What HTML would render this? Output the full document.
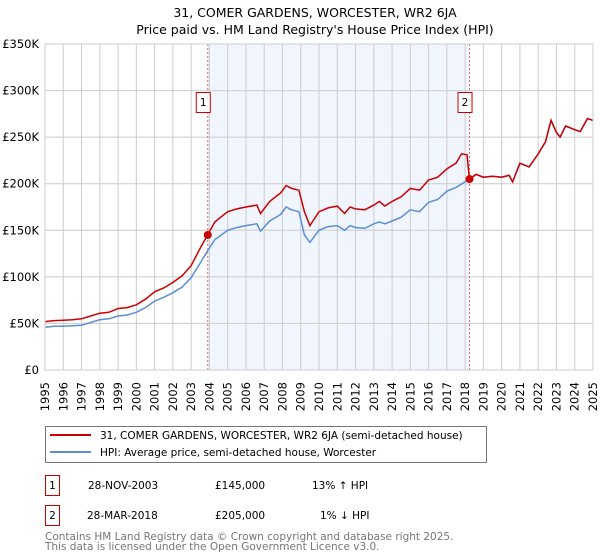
<!DOCTYPE html>
<html><head><meta charset="utf-8"><style>
body{margin:0;background:#fff;font-family:"Liberation Sans","DejaVu Sans",sans-serif;}
svg{display:block}
text{font-family:"DejaVu Sans","Liberation Sans",sans-serif;}
</style></head><body>
<svg id="chart" width="600" height="560" viewBox="0 0 600 560">
<text x="315" y="17" font-size="12.5" text-anchor="middle" fill="#000">31, COMER GARDENS, WORCESTER, WR2 6JA</text>
<text x="315" y="34" font-size="12.5" text-anchor="middle" fill="#000">Price paid vs. HM Land Registry's House Price Index (HPI)</text>
<g id="plot"></g>
<g>
<rect x="45.5" y="426.5" width="441" height="36" fill="#fff" stroke="#777"/>
<line x1="50" y1="435" x2="91" y2="435" stroke="#cc0000" stroke-width="2"/>
<text x="100" y="439" font-size="10.5">31, COMER GARDENS, WORCESTER, WR2 6JA (semi-detached house)</text>
<line x1="50" y1="452" x2="91" y2="452" stroke="#5b8ed6" stroke-width="2"/>
<text x="100" y="456" font-size="10.5">HPI: Average price, semi-detached house, Worcester</text>
</g>
<g>
<rect x="45.5" y="475.5" width="14" height="20" fill="#fff" stroke="#cc0000"/>
<text x="52.5" y="489" font-size="10.5" text-anchor="middle">1</text>
<text x="88" y="489" font-size="10.5">28-NOV-2003</text>
<text x="215" y="489" font-size="10.5">£145,000</text>
<text x="312" y="489" font-size="10.5">13% ↑ HPI</text>
<rect x="45.5" y="505.5" width="14" height="20" fill="#fff" stroke="#cc0000"/>
<text x="52.5" y="519" font-size="10.5" text-anchor="middle">2</text>
<text x="87" y="519" font-size="10.5">28-MAR-2018</text>
<text x="215" y="519" font-size="10.5">£205,000</text>
<text x="320" y="519" font-size="10.5">1% ↓ HPI</text>
</g>
<text x="45" y="540" font-size="10.5" fill="#777">Contains HM Land Registry data © Crown copyright and database right 2025.</text>
<text x="45" y="550" font-size="10.5" fill="#777">This data is licensed under the Open Government Licence v3.0.</text>
</svg>
<script>
const yTicks=[0,50000,100000,150000,200000,250000,300000,350000];
const yTickLabels=["£0","£50K","£100K","£150K","£200K","£250K","£300K","£350K"];
const years=[1995,1996,1997,1998,1999,2000,2001,2002,2003,2004,2005,2006,2007,2008,2009,2010,2011,2012,2013,2014,2015,2016,2017,2018,2019,2020,2021,2022,2023,2024,2025];
const hpiDates=[1995,1995.5,1996,1996.5,1997,1997.5,1998,1998.5,1999,1999.5,2000,2000.5,2001,2001.5,2002,2002.5,2003,2003.5,2003.9,2004.3,2005,2005.5,2006,2006.6,2006.8,2007.3,2007.9,2008.2,2008.5,2008.9,2009.2,2009.5,2010,2010.5,2011,2011.4,2011.7,2012,2012.5,2013,2013.3,2013.6,2014,2014.5,2015,2015.5,2016,2016.5,2017,2017.5,2018.24,2018.6,2019,2019.5,2020,2020.4,2020.6,2021,2021.5,2022,2022.4,2022.7,2023,2023.2,2023.5,2024,2024.3,2024.7,2025];
const hpiValues=[46000,47000,47000,47500,48000,51000,54000,55000,58000,59000,62000,67000,74000,78000,83000,89000,99000,115000,128000,140000,150000,153000,155000,157000,149000,160000,167000,175000,172000,170000,145000,137000,150000,154000,155000,150000,155000,153000,152000,157000,159000,157000,160000,164000,172000,170000,180000,183000,192000,196000,205000,210000,207000,208000,207000,209000,202000,222000,218000,232000,245000,268000,255000,250000,262000,258000,256000,270000,268000];
const priceDates=[1995,1995.5,1996,1996.5,1997,1997.5,1998,1998.5,1999,1999.5,2000,2000.5,2001,2001.5,2002,2002.5,2003,2003.5,2003.9,2004.3,2005,2005.5,2006,2006.6,2006.8,2007.3,2007.9,2008.2,2008.5,2008.9,2009.2,2009.5,2010,2010.5,2011,2011.4,2011.7,2012,2012.5,2013,2013.3,2013.6,2014,2014.5,2015,2015.5,2016,2016.5,2017,2017.5,2017.8,2018.1,2018.24,2018.6,2019,2019.5,2020,2020.4,2020.6,2021,2021.5,2022,2022.4,2022.7,2023,2023.2,2023.5,2024,2024.3,2024.7,2025];
const priceValues=[52000,53000,53500,54000,55000,58000,61000,62000,66000,67000,70000,76000,84000,88000,94000,101000,112000,131000,145000,159000,170000,173000,175000,177000,168000,181000,190000,198000,195000,193000,170000,155000,170000,174000,176000,168000,175000,173000,172000,177000,181000,176000,181000,186000,195000,193000,204000,207000,216000,222000,232000,231000,205000,210000,207000,208000,207000,209000,202000,222000,218000,232000,245000,268000,255000,250000,262000,258000,256000,270000,268000];
const sales=[{label:"1",date:2003.91,value:145000},{label:"2",date:2018.24,value:205000}];
const X0=45,X1=593,Y0=370,Y1=44;
function xs(t){return X0+(t-1995)/(2025-1995)*(X1-X0);}
function ys(v){return Y0-v/350000*(Y0-Y1);}
const NS="http://www.w3.org/2000/svg";
const g=document.getElementById('plot');
function mk(tag,attrs,parent){const e=document.createElementNS(NS,tag);for(const k in attrs)e.setAttribute(k,attrs[k]);(parent||g).appendChild(e);return e;}
const shade=mk('rect',{x:xs(sales[0].date),y:Y1,width:xs(sales[1].date)-xs(sales[0].date),height:Y0-Y1,fill:'#eef3fc',opacity:0.8});


years.forEach(function(yr){
  const l=mk('line',{x1:xs(yr),x2:xs(yr),y1:Y1,y2:Y0,stroke:'#ccc','stroke-width':1});
  
  
  const t=mk('text',{transform:'translate('+(xs(yr)+4)+',382) rotate(-90)','font-size':11.5,'text-anchor':'end'});
  t.textContent=yr;
  
  
});
yTicks.forEach(function(v,i){
  const l=mk('line',{x1:X0,x2:X1,y1:ys(v),y2:ys(v),stroke:'#ccc','stroke-width':1});
  
  
  const t=mk('text',{x:39,y:ys(v)+4,'font-size':11.5,'text-anchor':'end'});
  t.textContent=yTickLabels[i];
  
  
});
sales.forEach(function(s){
  const l=mk('line',{x1:xs(s.date),x2:xs(s.date),y1:Y1,y2:Y0,stroke:'#e06666','stroke-width':1,'stroke-dasharray':'2,2'});
  
  
});
function pts(d,v){return d.map(function(t,i){return xs(t).toFixed(1)+','+ys(v[i]).toFixed(1);}).join(' ');}
const hpi=mk('polyline',{points:pts(hpiDates,hpiValues),fill:'none',stroke:'#5b8ed6','stroke-width':1.5});


const pr=mk('polyline',{points:pts(priceDates,priceValues),fill:'none',stroke:'#cc0000','stroke-width':1.5});


sales.forEach(function(s){
  const c=mk('circle',{cx:xs(s.date),cy:ys(s.value),r:4,fill:'#cc0000'});
  
  
  const b=mk('rect',{x:xs(s.date)-11.5,y:92.5,width:14,height:20,fill:'#fff',stroke:'#cc0000'});
  
  
  const t=mk('text',{x:xs(s.date)-4.5,y:106,'font-size':10.5,'text-anchor':'middle'});
  t.textContent=s.label;
  
  
});
const fr=mk('rect',{x:X0,y:Y1,width:X1-X0,height:Y0-Y1,fill:'none',stroke:'#ccc'});


</script>
</body></html>
